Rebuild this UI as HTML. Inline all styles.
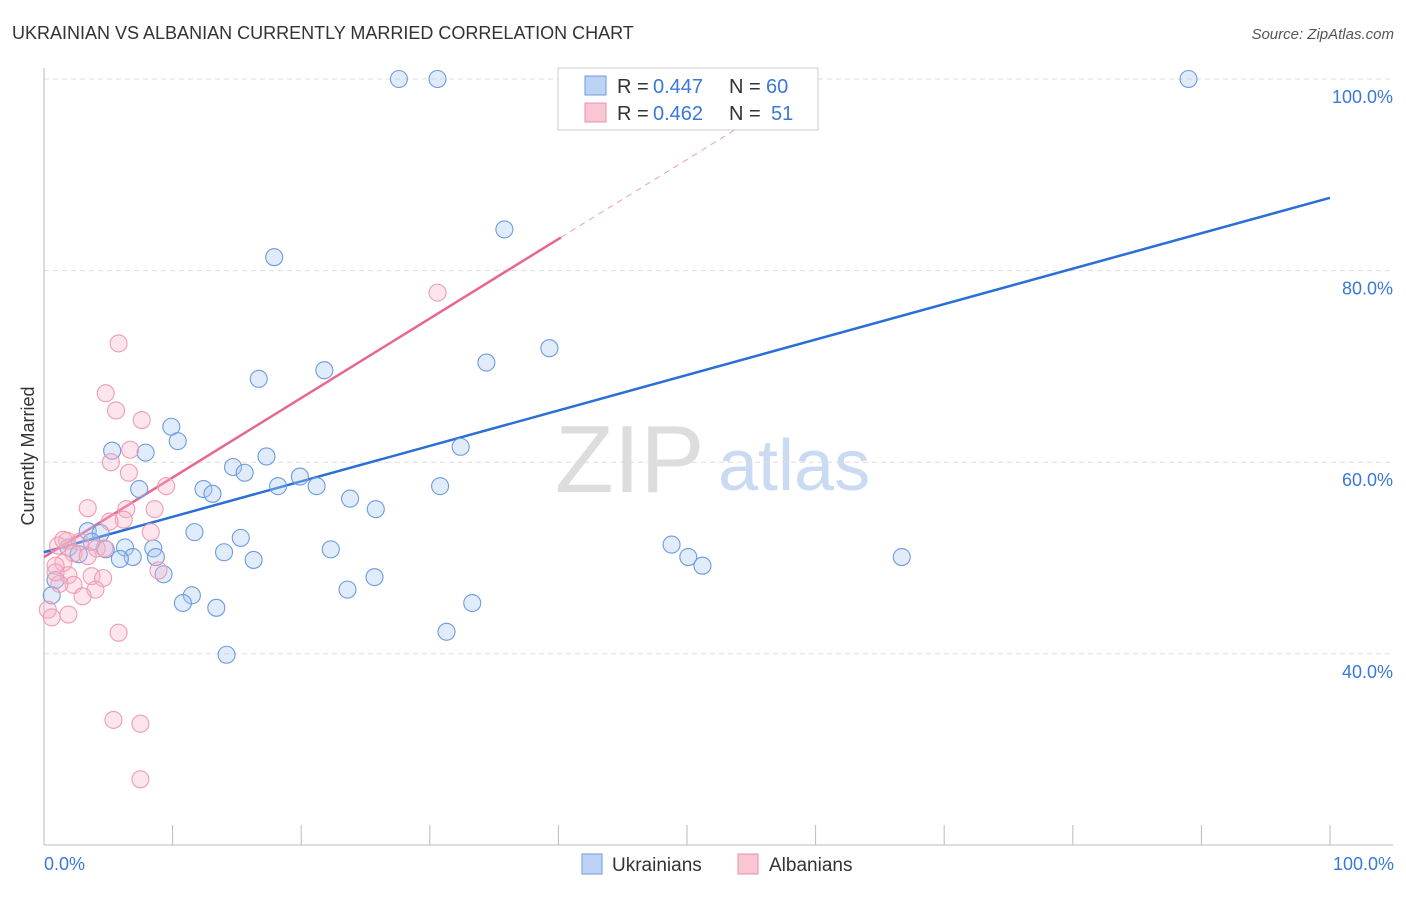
<!DOCTYPE html>
<html><head><meta charset="utf-8"><style>
body{margin:0;background:#fff;font-family:"Liberation Sans",sans-serif;}
svg text{font-family:"Liberation Sans",sans-serif;}
</style></head><body>
<svg id="chart" width="1406" height="892">
<text x="12" y="39" font-size="18" fill="#333">UKRAINIAN VS ALBANIAN CURRENTLY MARRIED CORRELATION CHART</text>
<text x="1394" y="39" font-size="15" fill="#555" font-style="italic" text-anchor="end">Source: ZipAtlas.com</text>
<text x="555" y="492" font-size="96" fill="#ddd" font-family="Liberation Serif">ZIP</text>
<text x="718" y="490" font-size="72" fill="#c9daf2">atlas</text>
<g id="grid"></g><g id="axes"></g><g id="lines"></g><g id="pts"></g>
<text transform="translate(34,456) rotate(-90)" font-size="18" fill="#333" text-anchor="middle">Currently Married</text>
<text x="44" y="870" font-size="18" fill="#3a78d8">0.0%</text>
<text x="1394" y="870" font-size="18" fill="#3a78d8" text-anchor="end">100.0%</text>
<g>
<rect x="558" y="68" width="260" height="62" fill="#fff" stroke="#ccc"/>
<rect x="585" y="76" width="21" height="19" fill="#bcd3f5" stroke="#6f9be0"/>
<rect x="585" y="103" width="21" height="19" fill="#f9c6d4" stroke="#ec8fab"/>
<text x="617" y="93" font-size="20" fill="#333">R =</text>
<text x="653" y="93" font-size="20" fill="#3a78d8">0.447</text>
<text x="729" y="93" font-size="20" fill="#333">N =</text>
<text x="766" y="93" font-size="20" fill="#3a78d8">60</text>
<text x="617" y="120" font-size="20" fill="#333">R =</text>
<text x="653" y="120" font-size="20" fill="#3a78d8">0.462</text>
<text x="729" y="120" font-size="20" fill="#333">N =</text>
<text x="771" y="120" font-size="20" fill="#3a78d8">51</text>
</g>
<rect x="582" y="854" width="20" height="20" fill="#bcd3f5" stroke="#6f9be0"/>
<text x="612" y="871" font-size="19" fill="#333">Ukrainians</text>
<rect x="738" y="854" width="20" height="20" fill="#f9c6d4" stroke="#ec8fab"/>
<text x="769" y="871" font-size="19" fill="#333">Albanians</text>
</svg>
<script>
const blueX=[27.6,30.6,89.0,35.8,17.9,39.3,34.4,21.8,16.7,9.9,10.4,5.3,7.9,32.4,17.3,14.7,15.6,19.9,7.4,18.2,21.2,12.4,13.1,30.8,23.8,25.8,11.7,15.3,3.4,4.4,1.9,3.7,6.3,8.5,4.8,22.3,48.8,14.0,2.7,6.9,8.7,5.9,16.3,50.1,51.2,66.7,9.3,25.7,0.9,11.5,23.6,10.8,13.4,33.3,31.3,14.2,0.6];
const blueY=[100,100,100,84.3,81.4,71.9,70.4,69.6,68.7,63.7,62.2,61.2,61.0,61.6,60.6,59.5,58.9,58.5,57.2,57.5,57.5,57.2,56.7,57.5,56.2,55.1,52.7,52.1,52.8,52.6,51.1,51.7,51.1,51.0,50.9,50.9,51.4,50.6,50.4,50.1,50.1,49.9,49.8,50.1,49.2,50.1,48.3,48.0,47.7,46.1,46.7,45.3,44.8,45.3,42.3,39.9,46.1];
const pinkX=[5.8,30.6,4.8,5.6,7.6,6.7,5.2,6.6,9.5,3.4,6.4,8.6,6.2,5.1,8.3,1.8,1.1,2.8,4.1,4.7,2.3,3.4,1.5,0.9,8.9,1.9,3.7,4.6,2.3,1.2,4.0,3.0,0.3,0.6,1.9,5.8,5.4,7.5,7.5,0.9,1.5];
const pinkY=[72.4,77.7,67.2,65.4,64.4,61.3,60.0,58.9,57.5,55.2,55.1,55.1,54.0,53.8,52.7,51.8,51.3,51.7,51.0,51.0,50.5,50.2,49.5,49.2,48.7,48.2,48.1,47.9,47.2,47.3,46.7,46.0,44.6,43.8,44.1,42.2,33.1,32.7,26.9,48.5,51.9];
const yTicks=[100,80,60,40];
const blueFit=[50.6,87.6];
const pinkFit=[50.1,0.83];
const NS="http://www.w3.org/2000/svg";
const sx=v=>44+v*12.86, sy=v=>1037-v*9.58;
function mk(p,t,a){const e=document.createElementNS(NS,t);for(const k in a)e.setAttribute(k,a[k]);document.getElementById(p).appendChild(e);return e;}
yTicks.forEach(t=>{
 const l=mk('grid','line',{x1:44,x2:1393,y1:sy(t),y2:sy(t),stroke:'#ddd','stroke-dasharray':'5,4'});
 
 
 const tx=mk('grid','text',{x:1393,y:sy(t)+24,'font-size':18,fill:'#3a78d8','text-anchor':'end'});
 tx.textContent=t.toFixed(1)+'%';
 
 
});
let a=mk('axes','line',{x1:44,x2:44,y1:68,y2:845,stroke:'#bbb'});


a=mk('axes','line',{x1:44,x2:1393,y1:845,y2:845,stroke:'#bbb'});


for(let i=0;i<=10;i++){const t=mk('axes','line',{x1:sx(i*10),x2:sx(i*10),y1:825,y2:845,stroke:'#bbb'});
 
 }
let ln=mk('lines','line',{x1:sx(0),y1:sy(blueFit[0]),x2:sx(100),y2:sy(blueFit[1]),stroke:'#2a6fd6','stroke-width':2.5});


ln=mk('lines','line',{x1:sx(0),y1:sy(pinkFit[0]),x2:sx(40.2),y2:sy(pinkFit[0]+pinkFit[1]*40.2),stroke:'#e8678f','stroke-width':2.5});


ln=mk('lines','line',{x1:sx(40.2),y1:sy(pinkFit[0]+pinkFit[1]*40.2),x2:sx(55.5),y2:sy(pinkFit[0]+pinkFit[1]*55.5),stroke:'#e8a0b6','stroke-width':1,'stroke-dasharray':'6,5'});


blueX.forEach((x,i)=>{const c=mk('pts','circle',{cx:sx(x),cy:sy(blueY[i]),r:8.5,fill:'rgba(170,200,240,0.35)',stroke:'#6b9be0','stroke-width':1.1});
 
 });
pinkX.forEach((x,i)=>{const c=mk('pts','circle',{cx:sx(x),cy:sy(pinkY[i]),r:8.5,fill:'rgba(246,180,200,0.35)',stroke:'#ef9cb4','stroke-width':1.1});
 
 });
</script>
</body></html>
